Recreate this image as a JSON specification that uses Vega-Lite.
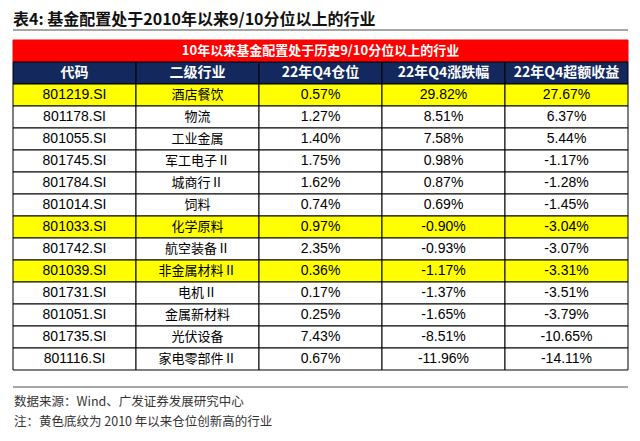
{
  "$schema": "https://vega.github.io/schema/vega-lite/v6.json",
  "autosize": {"type": "none"},
  "padding": {"left": 13, "top": 18, "right": 12, "bottom": 5},
  "width": 615,
  "height": 418,
  "background": "white",
  "config": {
    "view": {"stroke": null},
    "font": "Liberation Sans",
    "locale": {"number": {"decimal": ".", "thousands": ",", "grouping": [3], "currency": ["$", ""], "minus": "-"}}
  },
  "title": {
    "text": "表4: 基金配置处于2010年以来9/10分位以上的行业",
    "anchor": "start",
    "frame": "group",
    "baseline": "alphabetic",
    "offset": -23,
    "fontSize": 16,
    "font": "Noto Sans CJK SC",
    "fontWeight": "bold",
    "color": "#111111"
  },
  "datasets": {
    "table": [
      {"row": "r01", "代码": "801219.SI", "二级行业": "酒店餐饮", "22年Q4仓位": 0.0057, "22年Q4涨跌幅": 0.2982, "22年Q4超额收益": 0.2767, "hl": true},
      {"row": "r02", "代码": "801178.SI", "二级行业": "物流", "22年Q4仓位": 0.0127, "22年Q4涨跌幅": 0.0851, "22年Q4超额收益": 0.0637, "hl": false},
      {"row": "r03", "代码": "801055.SI", "二级行业": "工业金属", "22年Q4仓位": 0.0140, "22年Q4涨跌幅": 0.0758, "22年Q4超额收益": 0.0544, "hl": false},
      {"row": "r04", "代码": "801745.SI", "二级行业": "军工电子Ⅱ", "22年Q4仓位": 0.0175, "22年Q4涨跌幅": 0.0098, "22年Q4超额收益": -0.0117, "hl": false},
      {"row": "r05", "代码": "801784.SI", "二级行业": "城商行Ⅱ", "22年Q4仓位": 0.0162, "22年Q4涨跌幅": 0.0087, "22年Q4超额收益": -0.0128, "hl": false},
      {"row": "r06", "代码": "801014.SI", "二级行业": "饲料", "22年Q4仓位": 0.0074, "22年Q4涨跌幅": 0.0069, "22年Q4超额收益": -0.0145, "hl": false},
      {"row": "r07", "代码": "801033.SI", "二级行业": "化学原料", "22年Q4仓位": 0.0097, "22年Q4涨跌幅": -0.0090, "22年Q4超额收益": -0.0304, "hl": true},
      {"row": "r08", "代码": "801742.SI", "二级行业": "航空装备Ⅱ", "22年Q4仓位": 0.0235, "22年Q4涨跌幅": -0.0093, "22年Q4超额收益": -0.0307, "hl": false},
      {"row": "r09", "代码": "801039.SI", "二级行业": "非金属材料Ⅱ", "22年Q4仓位": 0.0036, "22年Q4涨跌幅": -0.0117, "22年Q4超额收益": -0.0331, "hl": true},
      {"row": "r10", "代码": "801731.SI", "二级行业": "电机Ⅱ", "22年Q4仓位": 0.0017, "22年Q4涨跌幅": -0.0137, "22年Q4超额收益": -0.0351, "hl": false},
      {"row": "r11", "代码": "801051.SI", "二级行业": "金属新材料", "22年Q4仓位": 0.0025, "22年Q4涨跌幅": -0.0165, "22年Q4超额收益": -0.0379, "hl": false},
      {"row": "r12", "代码": "801735.SI", "二级行业": "光伏设备", "22年Q4仓位": 0.0743, "22年Q4涨跌幅": -0.0851, "22年Q4超额收益": -0.1065, "hl": false},
      {"row": "r13", "代码": "801116.SI", "二级行业": "家电零部件Ⅱ", "22年Q4仓位": 0.0067, "22年Q4涨跌幅": -0.1196, "22年Q4超额收益": -0.1411, "hl": false}
    ],
    "cols": [
      {"row": "header", "col": "代码"},
      {"row": "header", "col": "二级行业"},
      {"row": "header", "col": "22年Q4仓位"},
      {"row": "header", "col": "22年Q4涨跌幅"},
      {"row": "header", "col": "22年Q4超额收益"}
    ],
    "banner": [{"row": "banner", "label": "10年以来基金配置处于历史9/10分位以上的行业"}],
    "line1": [{"row": "line1"}],
    "line2": [{"row": "line2"}],
    "src": [{"row": "src", "label": "数据来源：Wind、广发证券发展研究中心"}],
    "note": [{"row": "note", "label": "注：黄色底纹为 2010 年以来仓位创新高的行业"}]
  },
  "encoding": {
    "y": {
      "field": "row",
      "type": "nominal",
      "axis": null,
      "scale": {
        "type": "band",
        "paddingInner": 0,
        "paddingOuter": 0,
        "domain": ["line1", "banner", "header", "r01", "r02", "r03", "r04", "r05", "r06", "r07", "r08", "r09", "r10", "r11", "r12", "r13", "line2", "src", "note"]
      }
    }
  },
  "layer": [
    {
      "data": {"name": "line1"},
      "mark": {"type": "rule", "stroke": "#a6a6a6", "strokeWidth": 2, "yOffset": 1},
      "encoding": {}
    },
    {
      "data": {"name": "line2"},
      "mark": {"type": "rule", "stroke": "#a6a6a6", "strokeWidth": 2, "yOffset": 6},
      "encoding": {}
    },
    {
      "data": {"name": "banner"},
      "mark": {"type": "rect", "fill": "#ff0000", "stroke": "#ff0000"},
      "encoding": {}
    },
    {
      "data": {"name": "banner"},
      "mark": {"type": "text", "color": "white", "font": "Noto Sans CJK SC", "fontWeight": "bold", "fontSize": 13},
      "encoding": {"text": {"field": "label"}}
    },
    {
      "data": {"name": "cols"},
      "mark": {"type": "rect", "fill": "#13295e", "stroke": "#000000", "strokeWidth": 1},
      "encoding": {
        "x": {"field": "col", "type": "nominal", "axis": null, "scale": {"domain": ["代码", "二级行业", "22年Q4仓位", "22年Q4涨跌幅", "22年Q4超额收益"], "paddingInner": 0, "paddingOuter": 0}}
      }
    },
    {
      "data": {"name": "cols"},
      "mark": {"type": "text", "color": "white", "font": "Noto Sans CJK SC", "fontWeight": "bold", "fontSize": 14},
      "encoding": {
        "x": {"field": "col", "type": "nominal", "axis": null},
        "text": {"field": "col"}
      }
    },
    {
      "data": {"name": "table"},
      "transform": [{"fold": ["代码", "二级行业", "22年Q4仓位", "22年Q4涨跌幅", "22年Q4超额收益"], "as": ["col", "v"]}],
      "mark": {"type": "rect", "stroke": "#000000", "strokeWidth": 1},
      "encoding": {
        "x": {"field": "col", "type": "nominal", "axis": null},
        "fill": {"condition": {"test": "datum.hl", "value": "#ffff00"}, "value": "#ffffff"}
      }
    },
    {
      "data": {"name": "table"},
      "mark": {"type": "text", "color": "#000000", "font": "Liberation Sans", "fontSize": 14},
      "encoding": {
        "x": {"datum": "代码", "type": "nominal", "axis": null},
        "text": {"field": "代码"}
      }
    },
    {
      "data": {"name": "table"},
      "mark": {"type": "text", "color": "#000000", "font": "Noto Sans CJK SC", "fontSize": 13},
      "encoding": {
        "x": {"datum": "二级行业", "type": "nominal", "axis": null},
        "text": {"field": "二级行业"}
      }
    },
    {
      "data": {"name": "table"},
      "transform": [{"fold": ["22年Q4仓位", "22年Q4涨跌幅", "22年Q4超额收益"], "as": ["col", "v"]}],
      "mark": {"type": "text", "color": "#000000", "font": "Liberation Sans", "fontSize": 14},
      "encoding": {
        "x": {"field": "col", "type": "nominal", "axis": null},
        "text": {"field": "v", "type": "quantitative", "format": ".2%"}
      }
    },
    {
      "data": {"name": "src"},
      "mark": {"type": "text", "align": "left", "color": "#333333", "font": "Noto Sans CJK SC", "fontSize": 12.5, "dx": 1, "dy": -1},
      "encoding": {
        "x": {"datum": "代码", "type": "nominal", "bandPosition": 0, "axis": null},
        "text": {"field": "label"}
      }
    },
    {
      "data": {"name": "note"},
      "mark": {"type": "text", "align": "left", "color": "#333333", "font": "Noto Sans CJK SC", "fontSize": 12.5, "dx": 1, "dy": -3},
      "encoding": {
        "x": {"datum": "代码", "type": "nominal", "bandPosition": 0, "axis": null},
        "text": {"field": "label"}
      }
    }
  ]
}
